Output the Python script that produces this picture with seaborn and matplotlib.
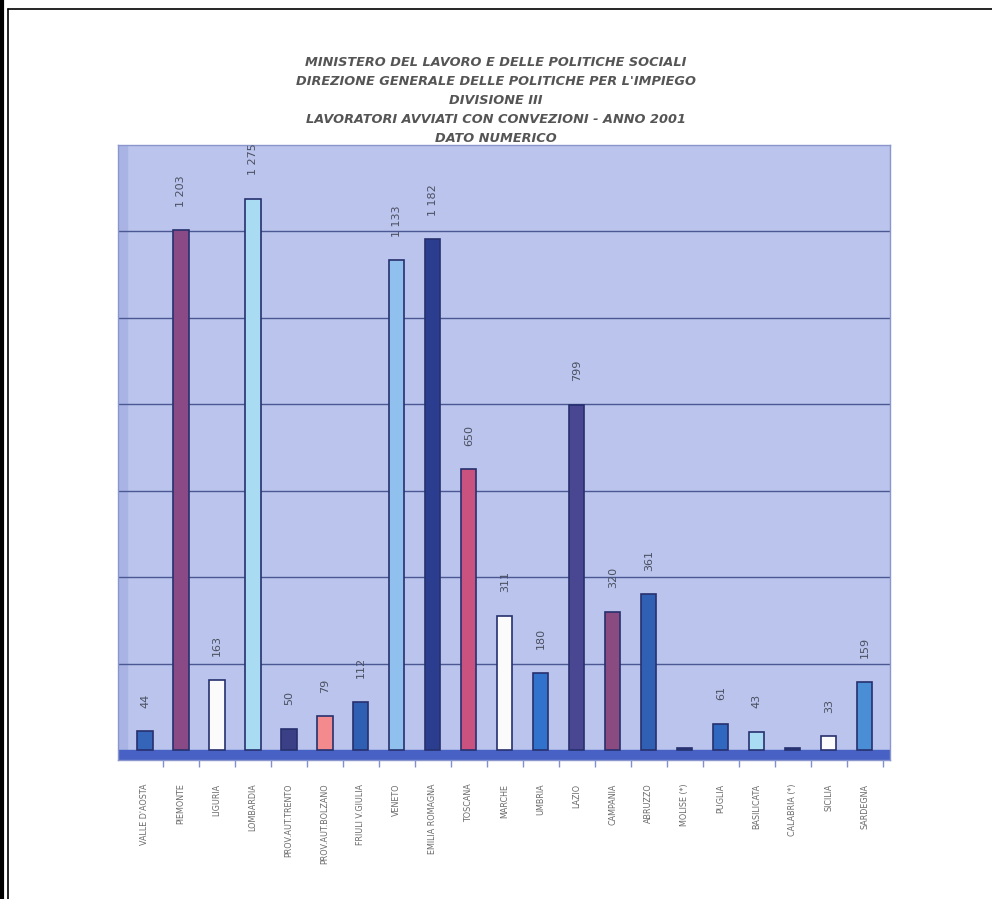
import numpy as np
import pandas as pd
import matplotlib
matplotlib.use("Agg")
import matplotlib.pyplot as plt
import seaborn as sns
from matplotlib.lines import Line2D

regioni = [
    "VALLE D'AOSTA", "PIEMONTE", "LIGURIA", "LOMBARDIA", "PROV.AUT.TRENTO",
    "PROV.AUT.BOLZANO", "FRIULI V.GIULIA", "VENETO", "EMILIA ROMAGNA", "TOSCANA",
    "MARCHE", "UMBRIA", "LAZIO", "CAMPANIA", "ABRUZZO", "MOLISE (*)", "PUGLIA",
    "BASILICATA", "CALABRIA (*)", "SICILIA", "SARDEGNA",
]
avviati = [44, 1203, 163, 1275, 50, 79, 112, 1133, 1182, 650,
           311, 180, 799, 320, 361, 5, 61, 43, 5, 33, 159]
etichette = ["44", "1 203", "163", "1 275", "50", "79", "112", "1 133", "1 182", "650",
             "311", "180", "799", "320", "361", "", "61", "43", "", "33", "159"]
colori = [
    "#3565b8", "#8a4a86", "#fbfbfb", "#a9dcf2", "#3b3f86",
    "#f28a8e", "#2f5fb2", "#8fc0ee", "#2b3d8e", "#c9527e",
    "#fbfbfb", "#3072cc", "#4a4792", "#8a4c80", "#2f60b4",
    "#2b3d8e", "#3068c0", "#a9dcf2", "#2b3d8e", "#fbfbfb", "#4a8fd6",
]

titolo = ("MINISTERO DEL LAVORO E DELLE POLITICHE SOCIALI\n"
          "DIREZIONE GENERALE DELLE POLITICHE PER L'IMPIEGO\n"
          "DIVISIONE III\n"
          "LAVORATORI AVVIATI CON CONVEZIONI - ANNO 2001\n"
          "DATO NUMERICO")

df = pd.DataFrame({"regione": regioni, "valore": avviati})

sns.set_theme(style="white")
fig = plt.figure(figsize=(9.92, 8.99), dpi=100)
fig.patch.set_facecolor("white")

ymin, ymax = -22, 1400
bottom_px, top_px = 760, 145
ax = fig.add_axes([118 / 992, 1 - bottom_px / 899, (890 - 118) / 992, (bottom_px - top_px) / 899])
ax.set_facecolor("#bac4ec")

sns.barplot(data=df, x="regione", y="valore", hue="regione", palette=colori,
            saturation=1, legend=False, width=0.42, edgecolor="#27306e",
            linewidth=1.2, ax=ax, zorder=3)

ax.set_ylim(ymin, ymax)
ax.set_xlim(-0.75, len(regioni) - 0.3)

# floor and left wall of the pseudo-3D frame
ax.axhspan(ymin, 0, color="#4762c4", zorder=2)
ax.axvspan(-0.75, -0.5, color="#a9b4e4", zorder=1)
for g in range(200, 1400, 200):
    ax.axhline(g, color="#4c5894", lw=1.0, zorder=1)

for i, (v, t) in enumerate(zip(avviati, etichette)):
    if t:
        ax.annotate(t, (i, v), xytext=(0, 17), textcoords="offset points",
                    rotation=90, ha="center", va="bottom", fontsize=8,
                    color="#4a5060", zorder=4)

ax.set_yticks([])
ax.set_xlabel("")
ax.set_ylabel("")
ax.set_xticks(range(len(regioni)))
ax.set_xticklabels(regioni, rotation=90, fontsize=5.8, color="#6a6a6a")
ax.set_xticks(np.arange(len(regioni)) + 0.5, minor=True)
ax.tick_params(axis="x", which="major", length=0, pad=17)
ax.tick_params(axis="x", which="minor", length=5, color="#8090d0", bottom=True)
for s in ax.spines.values():
    s.set_color("#8a96cc")
    s.set_linewidth(1.0)

fig.text(0.5, 1 - 56 / 899, titolo, ha="center", va="top", fontsize=9.3,
         fontweight="bold", fontstyle="italic", color="#555555", linespacing=1.6)

# scanned page border
fig.add_artist(Line2D([2 / 992, 2 / 992], [0, 1], color="black", lw=3))
fig.add_artist(Line2D([8 / 992, 8 / 992], [0, 1 - 9 / 899], color="black", lw=1.2))
fig.add_artist(Line2D([8 / 992, 1], [1 - 9 / 899, 1 - 9 / 899], color="black", lw=1.2))

fig.savefig("out.png", dpi=100, facecolor="white")
